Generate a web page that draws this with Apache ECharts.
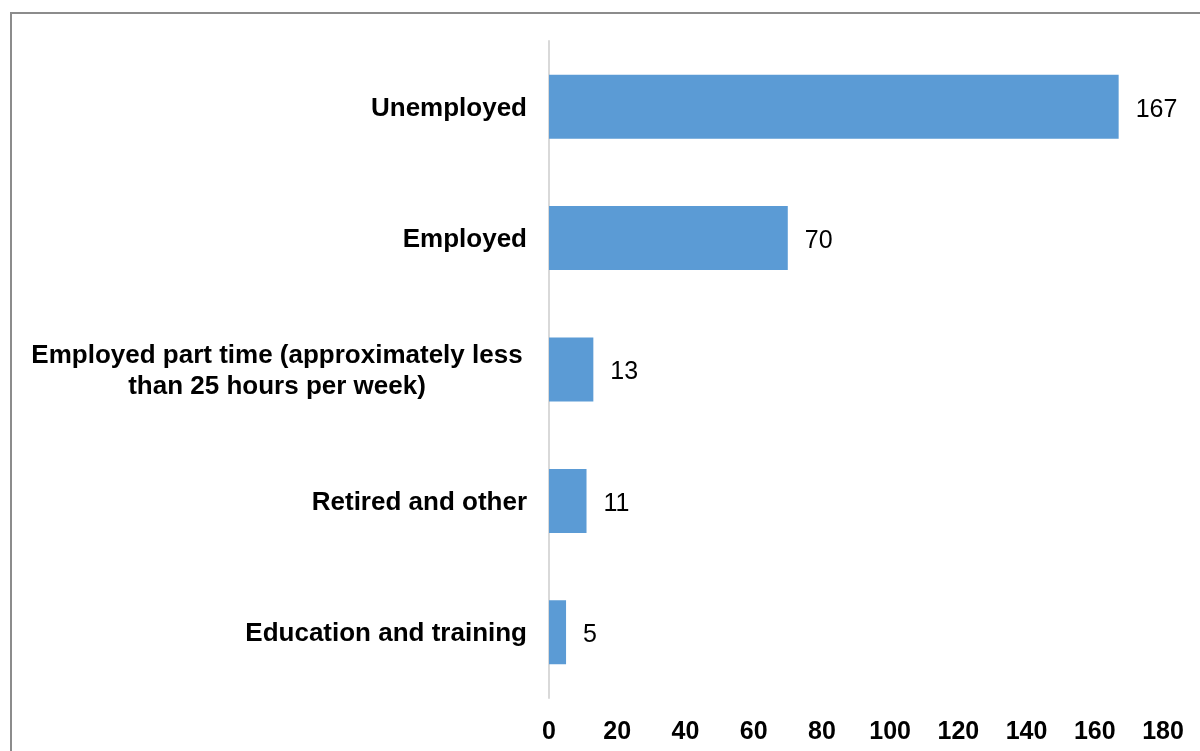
<!DOCTYPE html>
<html>
<head>
<meta charset="utf-8">
<style>
  html, body { margin: 0; padding: 0; background: #fff; }
  #chart { width: 1200px; height: 751px; }
</style>
<script src="https://cdn.jsdelivr.net/npm/echarts@6/dist/echarts.min.js"></script>
</head>
<body>
<div id="chart"></div>
<script>
// Categories listed bottom-to-top (category axis on y runs upward)
const categories = [
  'Education and training',
  'Retired and other',
  'Employed part time (approximately less\nthan 25 hours per week)',
  'Employed',
  'Unemployed'
];
const counts = [5, 11, 13, 70, 167];
const xTicks = [0, 20, 40, 60, 80, 100, 120, 140, 160, 180];

const FONT = 'Liberation Sans, Arial, sans-serif';

const chart = echarts.init(document.getElementById('chart'));
chart.setOption({
  backgroundColor: '#fff',
  animation: false,
  graphic: [{
    type: 'rect',
    shape: { x: 11, y: 13, width: 1300, height: 900 },
    style: { fill: 'none', stroke: '#8c8c8c', lineWidth: 2 },
    silent: true
  }],
  grid: { left: 549, right: 37, top: 41, bottom: 53 },
  xAxis: {
    type: 'value',
    min: xTicks[0],
    max: xTicks[xTicks.length - 1],
    interval: 20,
    axisLine: { show: false },
    axisTick: { show: false },
    splitLine: { show: false },
    axisLabel: {
      color: '#000',
      fontFamily: FONT,
      fontWeight: 'bold',
      fontSize: 25,
      margin: 22
    }
  },
  yAxis: {
    type: 'category',
    data: categories,
    axisLine: { show: true, lineStyle: { color: '#d9d9d9', width: 2 } },
    axisTick: { show: false },
    axisLabel: {
      color: '#000',
      fontFamily: FONT,
      fontWeight: 'bold',
      fontSize: 26,
      lineHeight: 31,
      align: 'right',
      margin: 22,
      padding: [4, 0, 0, 0],
      // wrapped labels: each line centred inside a fixed-width block
      formatter: v => v.indexOf('\n') < 0
        ? v
        : v.split('\n').map(s => '{c|' + s + '}').join('\n'),
      rich: {
        c: {
          width: 500,
          align: 'center',
          color: '#000',
          fontFamily: FONT,
          fontWeight: 'bold',
          fontSize: 26,
          lineHeight: 31
        }
      }
    }
  },
  series: [{
    type: 'bar',
    data: counts,
    barWidth: 64,
    itemStyle: { color: '#5b9bd5' },
    label: {
      show: true,
      position: 'right',
      distance: 17,
      offset: [0, 3],
      color: '#000',
      fontFamily: FONT,
      fontSize: 25
    }
  }]
});
</script>
</body>
</html>
